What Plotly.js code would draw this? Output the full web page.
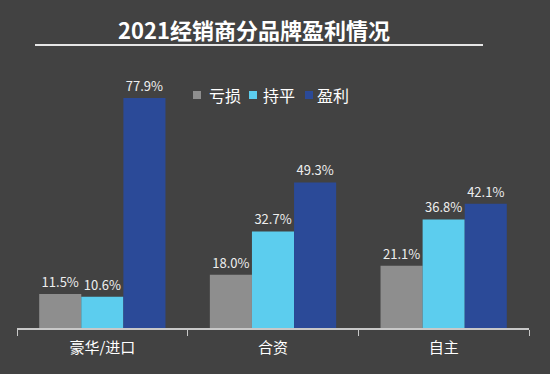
<!DOCTYPE html>
<html>
<head>
<meta charset="utf-8">
<script src="https://cdn.plot.ly/plotly-3.0.1.min.js"></script>
<style>
html,body{margin:0;padding:0;background:#424242;}
#chart{width:550px;height:374px;}
</style>
</head>
<body>
<div id="chart"></div>
<script>
const categories = ["豪华/进口", "合资", "自主"];
const seriesNames = ["亏损", "持平", "盈利"];
const loss = [11.5, 18.0, 21.1];
const breakEven = [10.6, 32.7, 36.8];
const profit = [77.9, 49.3, 42.1];
const colors = ["#8e8e8e", "#5ccdee", "#2b4a98"];

const FONT = '"Noto Sans CJK SC", "Noto Sans", sans-serif';
const values = [loss, breakEven, profit];
const traces = values.map((v, i) => ({
  type: "bar",
  name: seriesNames[i],
  x: categories,
  y: v,
  marker: {color: colors[i]},
  text: v.map(n => n.toFixed(1) + "%"),
  textposition: "outside",
  textfont: {color: "#eeeeee", size: 13, family: FONT},
  cliponaxis: false,
  hoverinfo: "none",
  showlegend: false
}));

// plot area geometry in pixels (used to place legend items in paper coords)
const L = 17, W = 512, B = 328, H = 268;
const px = x => (x - L) / W;
const py = y => (B - y) / H;

const legendShapes = seriesNames.map((n, i) => ({
  type: "rect", xref: "paper", yref: "paper",
  x0: px(193 + 56 * i), x1: px(201 + 56 * i),
  y0: py(99), y1: py(91),
  fillcolor: colors[i], line: {width: 0}
}));
const legendTexts = seriesNames.map((n, i) => ({
  xref: "paper", yref: "paper",
  x: px(207 + 54 * i), y: py(95),
  xanchor: "left", yanchor: "middle",
  text: n, showarrow: false,
  font: {size: 16, color: "#ffffff", family: FONT}
}));

const layout = {
  width: 550, height: 374,
  paper_bgcolor: "#424242",
  plot_bgcolor: "#424242",
  margin: {l: L, r: 550 - L - W, t: B - H, b: 374 - B, pad: 0},
  barmode: "group",
  bargap: 0.26,
  bargroupgap: 0,
  font: {family: FONT, color: "#ffffff"},
  title: {
    text: "<b>2021经销商分品牌盈利情况</b>",
    font: {size: 22, color: "#ffffff", family: FONT},
    x: px(254), xref: "paper", xanchor: "center",
    y: 1 - 31/374, yref: "container", yanchor: "middle"
  },
  xaxis: {
    showline: true, linecolor: "#c8c8c8", linewidth: 2,
    ticks: "outside", ticklen: 6, tickcolor: "#c8c8c8", tickwidth: 1,
    tickson: "boundaries",
    ticklabelstandoff: 5,
    tickfont: {size: 15, color: "#ffffff", family: FONT},
    showgrid: false, zeroline: false, fixedrange: true
  },
  yaxis: {
    range: [0, 90.8], visible: false, showgrid: false, zeroline: false, fixedrange: true
  },
  showlegend: false,
  annotations: legendTexts,
  shapes: [{
    type: "line", xref: "paper", yref: "paper",
    x0: px(35), x1: px(483),
    y0: py(45), y1: py(45),
    line: {color: "#e6e6e6", width: 2}
  }].concat(legendShapes)
};

Plotly.newPlot("chart", traces, layout, {displayModeBar: false, staticPlot: true});
</script>
</body>
</html>
